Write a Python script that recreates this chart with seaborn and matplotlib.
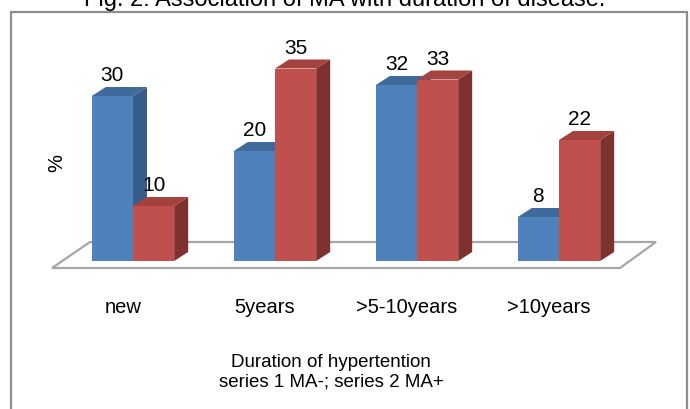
import pandas as pd
import numpy as np
import seaborn as sns
import matplotlib.pyplot as plt
from matplotlib.colors import to_rgb
from matplotlib.patches import Polygon, Rectangle
from matplotlib.transforms import ScaledTranslation

# data
categories = ['new', '5years', '>5-10years', '>10years']
ma_neg = [30, 20, 32, 8]     # series 1 MA-
ma_pos = [10, 35, 33, 22]    # series 2 MA+
series_names = ['MA-', 'MA+']

title = 'Fig. 2: Association of MA with duration of disease.'
xlabel_1 = 'Duration of hypertention'
xlabel_2 = 'series 1 MA-; series 2 MA+'

# excel-ish 3d colours (front, top, side)
blue = ['#4F81BD', '#3F6A9C', '#385D8A']
red = ['#C0504D', '#A3423F', '#7E3230']

plt.rcParams['font.family'] = ['Liberation Sans', 'DejaVu Sans']

W, H = 690, 410
fig = plt.figure(figsize=(W / 100, H / 100), dpi=100)
fig.patch.set_facecolor('white')

def fx(px):
    return px / W

def fy(py):
    return 1 - py / H

# axes: categories -0.5..3.5 over px 62..630, values 0..40 over px 262..42
ax = fig.add_axes([fx(62), fy(262), (630 - 62) / W, (262 - 42) / H])

df = pd.DataFrame({
    'duration': categories * 2,
    'pct': ma_neg + ma_pos,
    'series': [series_names[0]] * len(categories) + [series_names[1]] * len(categories),
})

sns.barplot(data=df, x='duration', y='pct', hue='series', order=categories,
            hue_order=series_names, palette=[blue[0], red[0]], width=0.58,
            saturation=1, errorbar=None, legend=False, linewidth=0, ax=ax)

ax.set_xlim(-0.5, 3.5)
ax.set_ylim(0, 40)

# pixel -> data helpers (142 px per category, 5.5 px per %)
def dx(px):
    return (px - 133) / 142

def dy(py):
    return (262 - py) / 5.5

depth_x = 14 / 142
depth_y = 9 / 5.5

# floor of the 3d chart
floor = Polygon([(dx(52), dy(269)), (dx(90), dy(243)), (dx(656), dy(243)), (dx(620), dy(269))],
                closed=True, facecolor='white', edgecolor='#A6A6A6', lw=1.6,
                zorder=1, clip_on=False)
ax.add_patch(floor)

# side and top faces for every bar
for bar in list(ax.patches):
    if bar is floor:
        continue
    x0 = bar.get_x()
    w = bar.get_width()
    h = bar.get_height()
    is_blue = np.allclose(bar.get_facecolor()[:3], to_rgb(blue[0]))
    cols = blue if is_blue else red
    z = 2 if is_blue else 3
    bar.set_zorder(z)
    side = Polygon([(x0 + w, 0), (x0 + w + depth_x, depth_y),
                    (x0 + w + depth_x, h + depth_y), (x0 + w, h)],
                   closed=True, facecolor=cols[2], lw=0, zorder=z, clip_on=False)
    top = Polygon([(x0, h), (x0 + depth_x, h + depth_y),
                   (x0 + w + depth_x, h + depth_y), (x0 + w, h)],
                  closed=True, facecolor=cols[1], lw=0, zorder=z, clip_on=False)
    ax.add_patch(side)
    ax.add_patch(top)
    ax.annotate(f'{h:g}', (x0 + w / 2, h), xytext=(0, 11.5), textcoords='offset points',
                ha='center', va='baseline', fontsize=15, zorder=5)

for s in ax.spines.values():
    s.set_visible(False)
ax.patch.set_visible(False)
ax.set_yticks([])
ax.tick_params(axis='x', length=0, pad=26, labelsize=14.5)
ax.set_xlabel('')
ax.set_ylabel('')

# category labels sit a little left of the bar pairs
shift = ScaledTranslation(-10 / 100, 0, fig.dpi_scale_trans)
for lbl in ax.get_xticklabels():
    lbl.set_transform(lbl.get_transform() + shift)

# texts outside the plot
fig.text(fx(57), fy(163), '%', rotation=90, ha='center', va='center', fontsize=14.5)
fig.text(fx(331), fy(367), xlabel_1, ha='center', va='baseline', fontsize=13.5)
fig.text(fx(331), fy(387), xlabel_2, ha='center', va='baseline', fontsize=13.5)
fig.text(fx(345), fy(6), title, ha='center', va='baseline', fontsize=17)

# chart border
fig.add_artist(Rectangle((fx(11), fy(420)), fx(687) - fx(11), fy(13) - fy(420),
                         transform=fig.transFigure, fill=False,
                         edgecolor='#8C8C8C', lw=1.6))

fig.savefig('out.png', dpi=100)
